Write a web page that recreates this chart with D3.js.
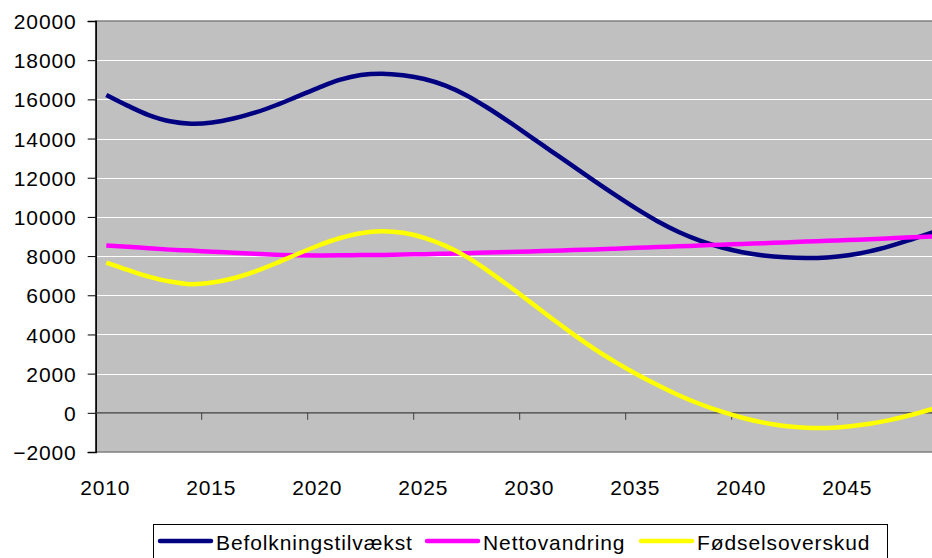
<!DOCTYPE html>
<html>
<head>
<meta charset="utf-8">
<script src="https://cdn.jsdelivr.net/npm/d3@7"></script>
<style>
    body { margin: 0; background: #fff; }
    svg text { font-family: "Liberation Sans", Arial, sans-serif; font-size: 21px; letter-spacing: 0.9px; fill: #000; }
</style>
</head>
<body>
<div id="chart"></div>
<script>
// values
const years = d3.range(2010, 2050);
const befolkningstilvaekst = [16220, 15680, 15200, 14880, 14760, 14820, 15020, 15320, 15700, 16140,
    16590, 16990, 17240, 17310, 17230, 17040, 16700, 16200, 15560, 14850,
    14100, 13350, 12600, 11850, 11120, 10420, 9780, 9230, 8790, 8450,
    8200, 8030, 7935, 7900, 7930, 8040, 8240, 8520, 8860, 9220];
const nettovandring = [8540, 8480, 8400, 8330, 8280, 8220, 8170, 8120, 8070, 8040,
    8030, 8040, 8050, 8060, 8080, 8100, 8120, 8150, 8180, 8210,
    8240, 8270, 8310, 8340, 8380, 8420, 8460, 8500, 8540, 8580,
    8620, 8660, 8700, 8740, 8780, 8820, 8860, 8910, 8960, 9000];
const foedselsoverskud = [7670, 7300, 6955, 6700, 6565, 6650, 6870, 7210, 7635, 8095,
    8540, 8910, 9170, 9270, 9190, 8930, 8520, 7960, 7250, 6470,
    5650, 4830, 4030, 3280, 2600, 1980, 1420, 900, 450, 70,
    -250, -500, -670, -760, -770, -700, -560, -360, -100, 200];
const seriesNames = ["Befolkningstilvækst", "Nettovandring", "Fødselsoverskud"];
const seriesColors = ["#000080", "#ff00ff", "#ffff00"];
const yTicks = d3.range(-2000, 20001, 2000);
const xLabelYears = [2010, 2015, 2020, 2025, 2030, 2035, 2040, 2045];

const width = 932, height = 558;
// the plot area runs past the right edge of the picture
const plot = {left: 95.7, top: 21, bottom: 452, catWidth: 21.2};

const svg = d3.select("#chart")
    .append("svg")
    .attr("width", width)
    .attr("height", height)
    .attr("viewBox", `0 0 ${width} ${height}`);

const x = d3.scaleBand()
    .domain(years)
    .range([plot.left, plot.left + years.length * plot.catWidth])
    .paddingInner(0).paddingOuter(0);
const y = d3.scaleLinear()
    .domain([-2000, 20000])
    .range([plot.bottom, plot.top]);
const xc = (yr) => x(yr) + x.bandwidth() / 2;

// plot background
svg.append("rect")
    .attr("x", plot.left)
    .attr("y", plot.top)
    .attr("width", x.range()[1] - plot.left)
    .attr("height", plot.bottom - plot.top)
    .attr("fill", "#c0c0c0")
    .attr("stroke", "#808080")
    .attr("stroke-width", 1.5);

// gridlines
svg.append("g")
    .selectAll("line")
    .data(yTicks.filter((v) => v > -2000 && v < 20000 && v !== 0))
    .join("line")
    .attr("x1", plot.left)
    .attr("x2", x.range()[1])
    .attr("y1", (d) => Math.round(y(d)) + 0.5)
    .attr("y2", (d) => Math.round(y(d)) + 0.5)
    .attr("stroke", "#ffffff")
    .attr("stroke-width", 1.2);

// y axis
const yAxis = svg.append("g")
    .attr("transform", `translate(${plot.left},0)`)
    .call(d3.axisLeft(y).tickValues(yTicks).tickSize(8).tickPadding(11).tickFormat(d3.format("d")));
yAxis.select(".domain").attr("stroke", "#000").attr("stroke-width", 1.5);
yAxis.selectAll(".tick line").attr("stroke", "#000");
yAxis.selectAll(".tick text").attr("dy", "0.36em");
yAxis.attr("font-size", null).attr("font-family", null);

// x axis on the zero line: ticks between categories, labels under the chart
const xAxisG = svg.append("g");
xAxisG.append("line")
    .attr("x1", plot.left)
    .attr("x2", x.range()[1])
    .attr("y1", y(0))
    .attr("y2", y(0))
    .attr("stroke", "#404040")
    .attr("stroke-width", 1.2);
xAxisG.selectAll(".xtick")
    .data(xLabelYears.filter((yr) => yr > 2010))
    .join("line")
    .attr("class", "xtick")
    .attr("x1", (d) => x(d))
    .attr("x2", (d) => x(d))
    .attr("y1", y(0))
    .attr("y2", y(0) + 7)
    .attr("stroke", "#404040");
xAxisG.selectAll("text")
    .data(xLabelYears)
    .join("text")
    .attr("x", (d) => xc(d) - 1)
    .attr("y", 495)
    .attr("text-anchor", "middle")
    .text((d) => d);

// series lines, smoothed like the original
const allSeries = [befolkningstilvaekst, nettovandring, foedselsoverskud];
const line = d3.line()
    .x((d, i) => xc(years[i]))
    .y((d) => y(d))
    .curve(d3.curveCatmullRom.alpha(0.5));

svg.append("g")
    .selectAll("path")
    .data(allSeries)
    .join("path")
    .attr("d", line)
    .attr("fill", "none")
    .attr("stroke", (d, i) => seriesColors[i])
    .attr("stroke-width", 4.5)
    .attr("stroke-linejoin", "round");

// legend
const legend = svg.append("g");
legend.append("rect")
    .attr("x", 153.5)
    .attr("y", 524.5)
    .attr("width", 734)
    .attr("height", 50)
    .attr("fill", "#fff")
    .attr("stroke", "#000")
    .attr("stroke-width", 1);
const legendStarts = [160, 427, 641];
const items = legend.selectAll(".item")
    .data(seriesNames)
    .join("g")
    .attr("class", "item")
    .attr("transform", (d, i) => `translate(${legendStarts[i]},0)`);
items.append("line")
    .attr("x1", 0)
    .attr("x2", 51)
    .attr("y1", 541)
    .attr("y2", 541)
    .attr("stroke", (d, i) => seriesColors[i])
    .attr("stroke-width", 4.5)
    .attr("stroke-linecap", "round");
items.append("text")
    .attr("x", 56)
    .attr("y", 550)
    .text((d) => d);
</script>
</body>
</html>
